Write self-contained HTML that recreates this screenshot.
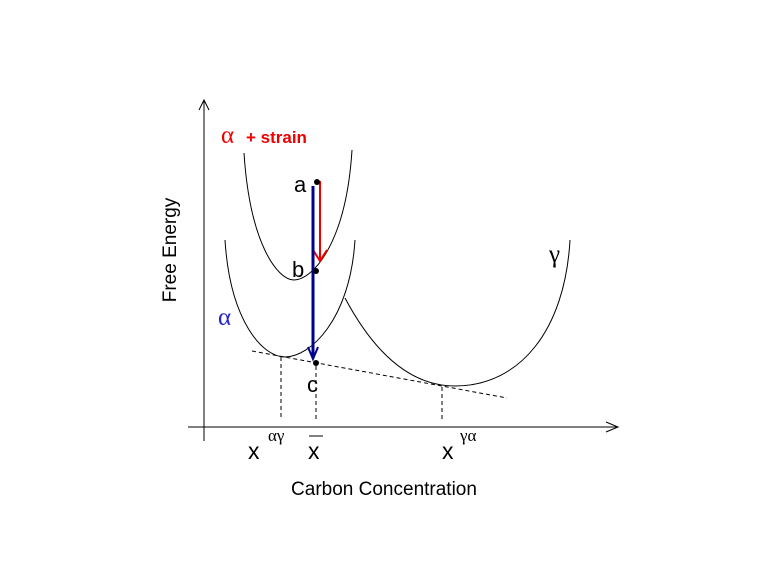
<!DOCTYPE html>
<html><head><style>body{margin:0;background:#fff}svg{display:block}</style></head><body>
<svg width="768" height="576" xmlns="http://www.w3.org/2000/svg" font-family="Liberation Sans, sans-serif">
<rect width="768" height="576" fill="#fff"/>
<g stroke="#000" stroke-width="1" fill="none">
<line x1="204" y1="100" x2="204" y2="441"/>
<polyline points="199,110 204,100 209,110"/>
<line x1="188" y1="427" x2="618" y2="427"/>
<polyline points="606,422 618,427 606,432"/>
<path d="M244 153 C250 245,278 280,294 280 C312 280,346 245,352 150"/>
<path d="M225 240 C230 320,262 357,285 357 C310 357,350 320,355 240"/>
<path d="M345 298 C370 345,405 386,455 386 C520 386,565 330,570 240"/>
<g stroke-dasharray="4,3">
<line x1="252" y1="351" x2="507" y2="398"/>
<line x1="281" y1="357" x2="281" y2="420"/>
<line x1="316" y1="366" x2="316" y2="420"/>
<line x1="442" y1="387" x2="442" y2="420"/>
</g>
</g>
<g stroke="#e00" stroke-width="2" fill="none">
<line x1="320" y1="181" x2="320" y2="261"/>
<polyline points="313,250 320,261 327,250"/>
</g>
<g stroke="#00008b" stroke-width="3" fill="none">
<line x1="313" y1="186" x2="313" y2="358"/>
<polyline points="308,347 313,359 318,347" stroke-width="2"/>
</g>
<circle cx="317" cy="182" r="3"/>
<circle cx="316" cy="271" r="3"/>
<circle cx="316" cy="363" r="3"/>
<text x="221" y="143" fill="#e00" font-size="25" font-family="Liberation Serif, serif">α</text>
<text x="246" y="143" fill="#e00" font-size="17" font-weight="bold">+ strain</text>
<text x="294" y="192" font-size="22">a</text>
<text x="292" y="277" font-size="22">b</text>
<text x="307" y="392" font-size="22">c</text>
<text x="218" y="325" fill="#22c" font-size="25" font-family="Liberation Serif, serif">α</text>
<text x="549" y="262" font-size="25" font-family="Liberation Serif, serif">γ</text>
<text x="248" y="459" font-size="23">x</text>
<text x="268" y="441" font-size="17" font-family="Liberation Serif, serif">αγ</text>
<text x="308" y="459" font-size="23">x</text>
<line x1="309" y1="436" x2="323" y2="436" stroke="#000"/>
<text x="442" y="459" font-size="23">x</text>
<text x="460" y="441" font-size="17" font-family="Liberation Serif, serif">γα</text>
<text x="384" y="495" font-size="19" text-anchor="middle">Carbon Concentration</text>
<text transform="translate(176,250) rotate(-90)" font-size="19" text-anchor="middle">Free Energy</text>
</svg>
</body></html>
